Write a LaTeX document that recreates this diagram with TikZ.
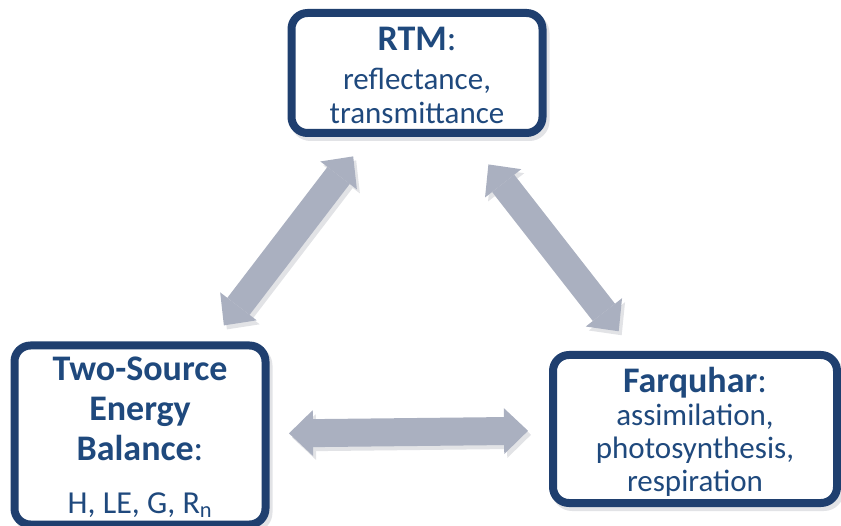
\documentclass[tikz,border=0pt]{standalone}
\usepackage{fontspec}
\setmainfont{Carlito}
\usetikzlibrary{arrows.meta,calc}
\definecolor{boxblue}{HTML}{1F3F6F}
\definecolor{txtblue}{HTML}{1F497D}
\definecolor{arrowgray}{HTML}{AAB0C0}
\definecolor{shadowgray}{HTML}{E2E3E6}
\newcommand{\ttlsize}{\fontsize{36}{40}\selectfont}
\newcommand{\bdysize}{\fontsize{31}{34}\selectfont}
\begin{document}
\begin{tikzpicture}[x=1pt,y=-1pt,
  modelbox/.style={draw=boxblue, line width=8pt, rounded corners=16pt, fill=white,
    text=txtblue, align=center, inner sep=0pt, text depth=0pt,
    preaction={draw=shadowgray, fill=shadowgray, line width=8pt,
      transform canvas={xshift=3pt,yshift=-4pt}}},
  link/.style={draw=arrowgray, line width=28pt,
    {Triangle[length=24pt,width=46pt,line width=0pt]}-{Triangle[length=24pt,width=46pt,line width=0pt]}},
  linkshadow/.style={draw=shadowgray, line width=28pt,
    {Triangle[length=24pt,width=46pt,line width=0pt]}-{Triangle[length=24pt,width=46pt,line width=0pt]},
    transform canvas={xshift=3pt,yshift=-4pt}}
]
\useasboundingbox (0,0) rectangle (841,526);
\clip (0,0) rectangle (841,526);

\node[modelbox, minimum width=251pt, minimum height=120pt, font=\bdysize, text depth=-3pt] (rtm) at (417,73)
  {{\ttlsize\rule{0pt}{29pt}\textbf{RTM}:}\\[5pt]reflectance,\\transmittance};

\node[modelbox, minimum width=251pt, minimum height=179pt, font=\ttlsize\linespread{0.99}] (tse) at (140,435)
  {\textbf{Two-Source}\\\textbf{Energy}\\\textbf{Balance}:\\[13pt]{\fontsize{32}{33}\selectfont H, LE, G, R\textsubscript{n}}};

\node[modelbox, minimum width=284pt, minimum height=148pt, font=\fontsize{31}{33}\selectfont] (farq) at (695,429)
  {{\ttlsize\textbf{Farquhar}:}\\assimilation,\\photosynthesis,\\respiration};

\draw[linkshadow, shorten <=138pt, shorten >=105pt] (tse.center) -- (rtm.center);
\draw[linkshadow, shorten <=116pt, shorten >=124pt] (rtm.center) -- (farq.center);
\draw[linkshadow, shorten <=149pt, shorten >=167pt] (tse.center) -- (farq.center);

\draw[link, shorten <=138pt, shorten >=105pt] (tse.center) -- (rtm.center);
\draw[link, shorten <=116pt, shorten >=124pt] (rtm.center) -- (farq.center);
\draw[link, shorten <=149pt, shorten >=167pt] (tse.center) -- (farq.center);
\end{tikzpicture}
\end{document}
